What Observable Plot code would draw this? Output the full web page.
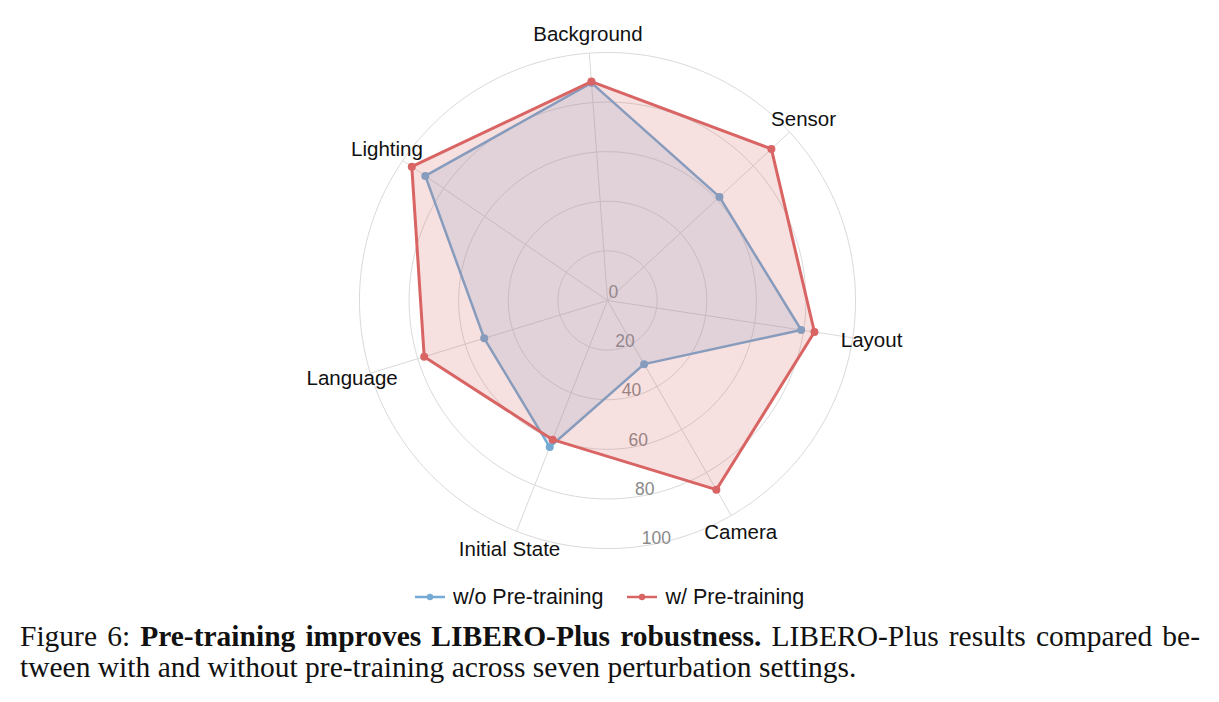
<!DOCTYPE html>
<html><head><meta charset="utf-8">
<script src="https://cdn.jsdelivr.net/npm/d3@7"></script>
<script src="https://cdn.jsdelivr.net/npm/@observablehq/plot@0.6"></script>
<style>
html,body{margin:0;padding:0;background:#fff;}
#wrap{position:relative;width:1219px;height:702px;overflow:hidden;background:#fff;}
#chart{position:absolute;left:0;top:0;}
#legend{position:absolute;top:584px;left:0;width:1219px;height:26px;display:flex;justify-content:center;align-items:center;font-family:"Liberation Sans",Arial,sans-serif;font-size:21.5px;color:#111;}
.item{display:flex;align-items:center;margin:0 12px;}
.item svg{margin-right:8px;}
#caption{position:absolute;left:20px;top:621px;width:1180px;font-family:"Liberation Serif","Times New Roman",serif;font-size:29.5px;line-height:31px;color:#111;}
.l1{text-align:justify;text-align-last:justify;}
</style>
</head><body>
<div id="wrap">
  <div id="chart"></div>
  <div id="legend"></div>
  <div id="caption">
    <div class="l1">Figure 6: <b>Pre-training improves LIBERO-Plus robustness.</b> LIBERO-Plus results compared be-</div>
    <div>tween with and without pre-training across seven perturbation settings.</div>
  </div>
</div>
<script>
const categories = ["Background", "Sensor", "Layout", "Camera", "Initial State", "Language", "Lighting"];
const woPre = [88, 61.5, 79, 29.6, 63.5, 52, 89];
const wPre = [88.5, 90, 84.4, 88, 60.3, 77.3, 95.6];
const radialTicks = [0, 20, 40, 60, 80, 100];
const gridRings = [20, 40, 60, 80, 100];
const seriesNames = ["w/o Pre-training", "w/ Pre-training"];
const seriesColors = ["#74aad4", "#d96464"];

const startAngle = -4.2;          // first spoke, degrees clockwise from the top
const tickAngle = 172.3;          // direction of the radial tick labels
const labelRadius = 107.7;        // where category labels sit, in value units
const lon = (c) => 180 - (startAngle + categories.indexOf(c) * 360 / categories.length);
const lat = (v) => 90 - v / 100;

const rows = (vals) => categories.map((c, i) => ({key: c, value: vals[i]}));

function seriesMarks(data, color, sw) {
  return [
    Plot.area(data, {x1: d => lon(d.key), y1: d => lat(d.value), x2: 0, y2: 90,
      fill: color, fillOpacity: 0.2, curve: "linear-closed"}),
    Plot.line(data, {x: d => lon(d.key), y: d => lat(d.value), stroke: color,
      strokeWidth: sw, curve: "linear-closed", strokeLinejoin: "round"}),
    Plot.dot(data, {x: d => lon(d.key), y: d => lat(d.value), r: 4, fill: color})
  ];
}

const chart = Plot.plot({
  width: 1219,
  height: 578,
  marginTop: 22.24,
  marginBottom: 0.24,
  marginLeft: 329.24,
  marginRight: 334.24,
  style: {fontFamily: '"Liberation Sans", Arial, sans-serif', background: "white", overflow: "visible"},
  projection: {
    type: "azimuthal-equidistant",
    rotate: [0, -90],
    domain: d3.geoCircle().center([0, 90]).radius(1.12)()
  },
  marks: [
    Plot.geo(gridRings, {
      geometry: r => d3.geoCircle().center([0, 90]).radius(r / 100).precision(1)(),
      stroke: "#d9d9d9", strokeWidth: 1, fill: "none"
    }),
    Plot.link(categories, {x1: lon, y1: lat(100), x2: 0, y2: 90, stroke: "#d9d9d9", strokeWidth: 1}),
    Plot.text(radialTicks, {
      x: 180 - tickAngle, y: v => lat(v), dx: 1, dy: -8, textAnchor: "start",
      text: d => String(d), fill: "#8a8a8a", fontSize: 17.5
    }),
    ...seriesMarks(rows(woPre), seriesColors[0], 2.5),
    ...seriesMarks(rows(wPre), seriesColors[1], 3),
    Plot.text(categories, {x: lon, y: lat(labelRadius), text: d => d, fontSize: 20.5, fill: "#111"})
  ]
});
document.getElementById("chart").appendChild(chart);

const legend = document.getElementById("legend");
seriesNames.forEach((name, i) => {
  const item = document.createElement("div");
  item.className = "item";
  item.innerHTML = `<svg width="30" height="12"><line x1="0" y1="6" x2="30" y2="6" stroke="${seriesColors[i]}" stroke-width="2.5"/><circle cx="15" cy="6" r="3.2" fill="${seriesColors[i]}"/></svg><span>${name}</span>`;
  legend.appendChild(item);
});
</script>
</body></html>
